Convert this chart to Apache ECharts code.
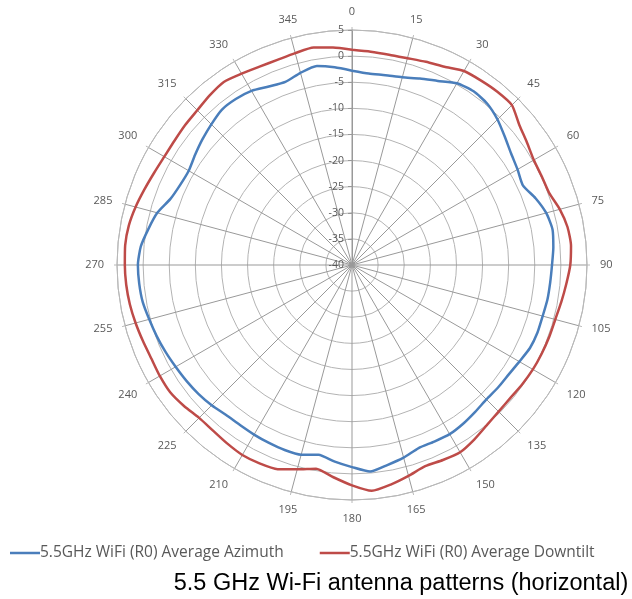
<!DOCTYPE html>
<html>
<head>
<meta charset="utf-8">
<title>5.5 GHz Wi-Fi antenna patterns</title>
<script src="https://cdn.jsdelivr.net/npm/echarts@6/dist/echarts.min.js"></script>
<style>
  html, body { margin: 0; padding: 0; background: #fff; }
  #chart { width: 632px; height: 599px; }
</style>
</head>
<body>
<div id="chart"></div>
<script>
// angles in degrees (clockwise from top), every 5 deg
const angles = [
  0, 5, 10, 15, 20, 25, 30, 35, 40, 45, 50, 55,
  60, 65, 70, 75, 80, 85, 90, 95, 100, 105, 110, 115,
  120, 125, 130, 135, 140, 145, 150, 155, 160, 165, 170, 175,
  180, 185, 190, 195, 200, 205, 210, 215, 220, 225, 230, 235,
  240, 245, 250, 255, 260, 265, 270, 275, 280, 285, 290, 295,
  300, 305, 310, 315, 320, 325, 330, 335, 340, 345, 350, 355, 360
];

// dB values
const azimuth = [
  -2.8, -3.2, -3.1, -2.8, -2.0, -1.1, 0.2, 0.6, 0.3, -0.6, -1.8, -2.8,
  -3.4, -3.9, -2.6, -1.5, -1.0, -1.3, -1.7, -1.9, -2.0, -2.2, -2.2, -2.4,
  -3.0, -3.4, -3.5, -3.6, -3.3, -2.9, -2.6, -2.7, -2.7, -1.8, -1.1, -0.3,
  -1.3, -2.2, -3.1, -2.4, -2.3, -2.4, -2.5, -2.6, -2.5, -2.0, -1.6, -1.3,
  -1.0, -0.6, -0.2, 0.2, 0.7, 0.9, 1.0, 0.6, -0.4, -1.4, -3.0, -3.7,
  -3.9, -3.3, -2.6, -1.9, -1.2, -1.2, -1.5, -2.3, -2.7, -1.9, -1.3, -2.0, -2.8
];

const downtilt = [
  1.2, 1.0, 0.9, 1.0, 1.4, 1.9, 2.9, 3.1, 3.3, 3.3, 1.8, 0.9,
  0.2, 0.1, 0.2, 1.2, 1.9, 2.1, 1.8, 1.2, 0.7, 0.3, 0.2, 0.1,
  0.0, -0.2, -0.4, -0.3, 0.1, 0.8, 1.4, 1.2, 1.0, 1.8, 2.7, 3.4,
  2.2, 0.8, -0.4, 0.5, 1.6, 1.9, 2.0, 1.7, 1.4, 1.4, 2.0, 2.5,
  2.5, 2.4, 2.6, 2.9, 3.2, 3.4, 3.5, 3.6, 3.4, 2.9, 2.3, 1.8,
  1.5, 1.5, 1.7, 1.9, 2.4, 2.8, 2.3, 1.9, 1.8, 2.0, 2.3, 1.8, 1.2
];

const seriesNames = [
  '5.5GHz WiFi (R0) Average Azimuth',
  '5.5GHz WiFi (R0) Average Downtilt'
];
const seriesColors = ['#4A7EBB', '#BE4B48'];

const chart = echarts.init(document.getElementById('chart'));

const toPolar = vals => vals.map((v, i) => [v, angles[i]]);

const option = {
  animation: false,
  title: {
    text: '5.5 GHz Wi-Fi antenna patterns (horizontal)',
    left: 396,
    textAlign: 'center',
    top: 567,
    textStyle: {
      fontFamily: 'Liberation Sans',
      fontSize: 23.5,
      fontWeight: 'normal',
      color: '#000'
    }
  },
  legend: {
    left: 5,
    top: 540,
    icon: 'rect',
    itemWidth: 30,
    itemHeight: 2.5,
    itemGap: 36,
    textStyle: {
      fontFamily: 'Open Sans',
      fontSize: 15.5,
      color: '#595959',
      padding: [0, 0, 0, -5]
    },
    data: seriesNames
  },
  polar: {
    center: [352, 265],
    radius: 235
  },
  angleAxis: {
    type: 'value',
    min: 0,
    max: 360,
    interval: 15,
    startAngle: 90,
    clockwise: true,
    axisLine: { lineStyle: { color: '#b8b8b8', width: 1 } },
    axisTick: { show: true, length: 3, lineStyle: { color: '#b8b8b8' } },
    axisLabel: {
      margin: 13,
      fontFamily: 'Open Sans',
      fontSize: 11,
      color: '#595959',
      formatter: v => (v === 360 ? '' : String(v))
    },
    splitLine: { lineStyle: { color: '#999', width: 1 } }
  },
  radiusAxis: {
    type: 'value',
    min: -40,
    max: 5,
    interval: 5,
    axisLine: { lineStyle: { color: '#999', width: 1 } },
    axisTick: { show: true, length: 4, lineStyle: { color: '#999' } },
    axisLabel: {
      fontFamily: 'Open Sans',
      fontSize: 10.5,
      color: '#595959'
    },
    splitLine: { lineStyle: { color: '#b3b3b3', width: 1 } }
  },
  series: [
    {
      name: seriesNames[0],
      type: 'line',
      coordinateSystem: 'polar',
      symbol: 'none',
      smooth: 0.2,
      data: toPolar(azimuth),
      lineStyle: { color: seriesColors[0], width: 2.5 },
      itemStyle: { color: seriesColors[0] }
    },
    {
      name: seriesNames[1],
      type: 'line',
      coordinateSystem: 'polar',
      symbol: 'none',
      smooth: 0.2,
      data: toPolar(downtilt),
      lineStyle: { color: seriesColors[1], width: 2.5 },
      itemStyle: { color: seriesColors[1] }
    }
  ]
};

chart.setOption(option);
</script>
</body>
</html>
